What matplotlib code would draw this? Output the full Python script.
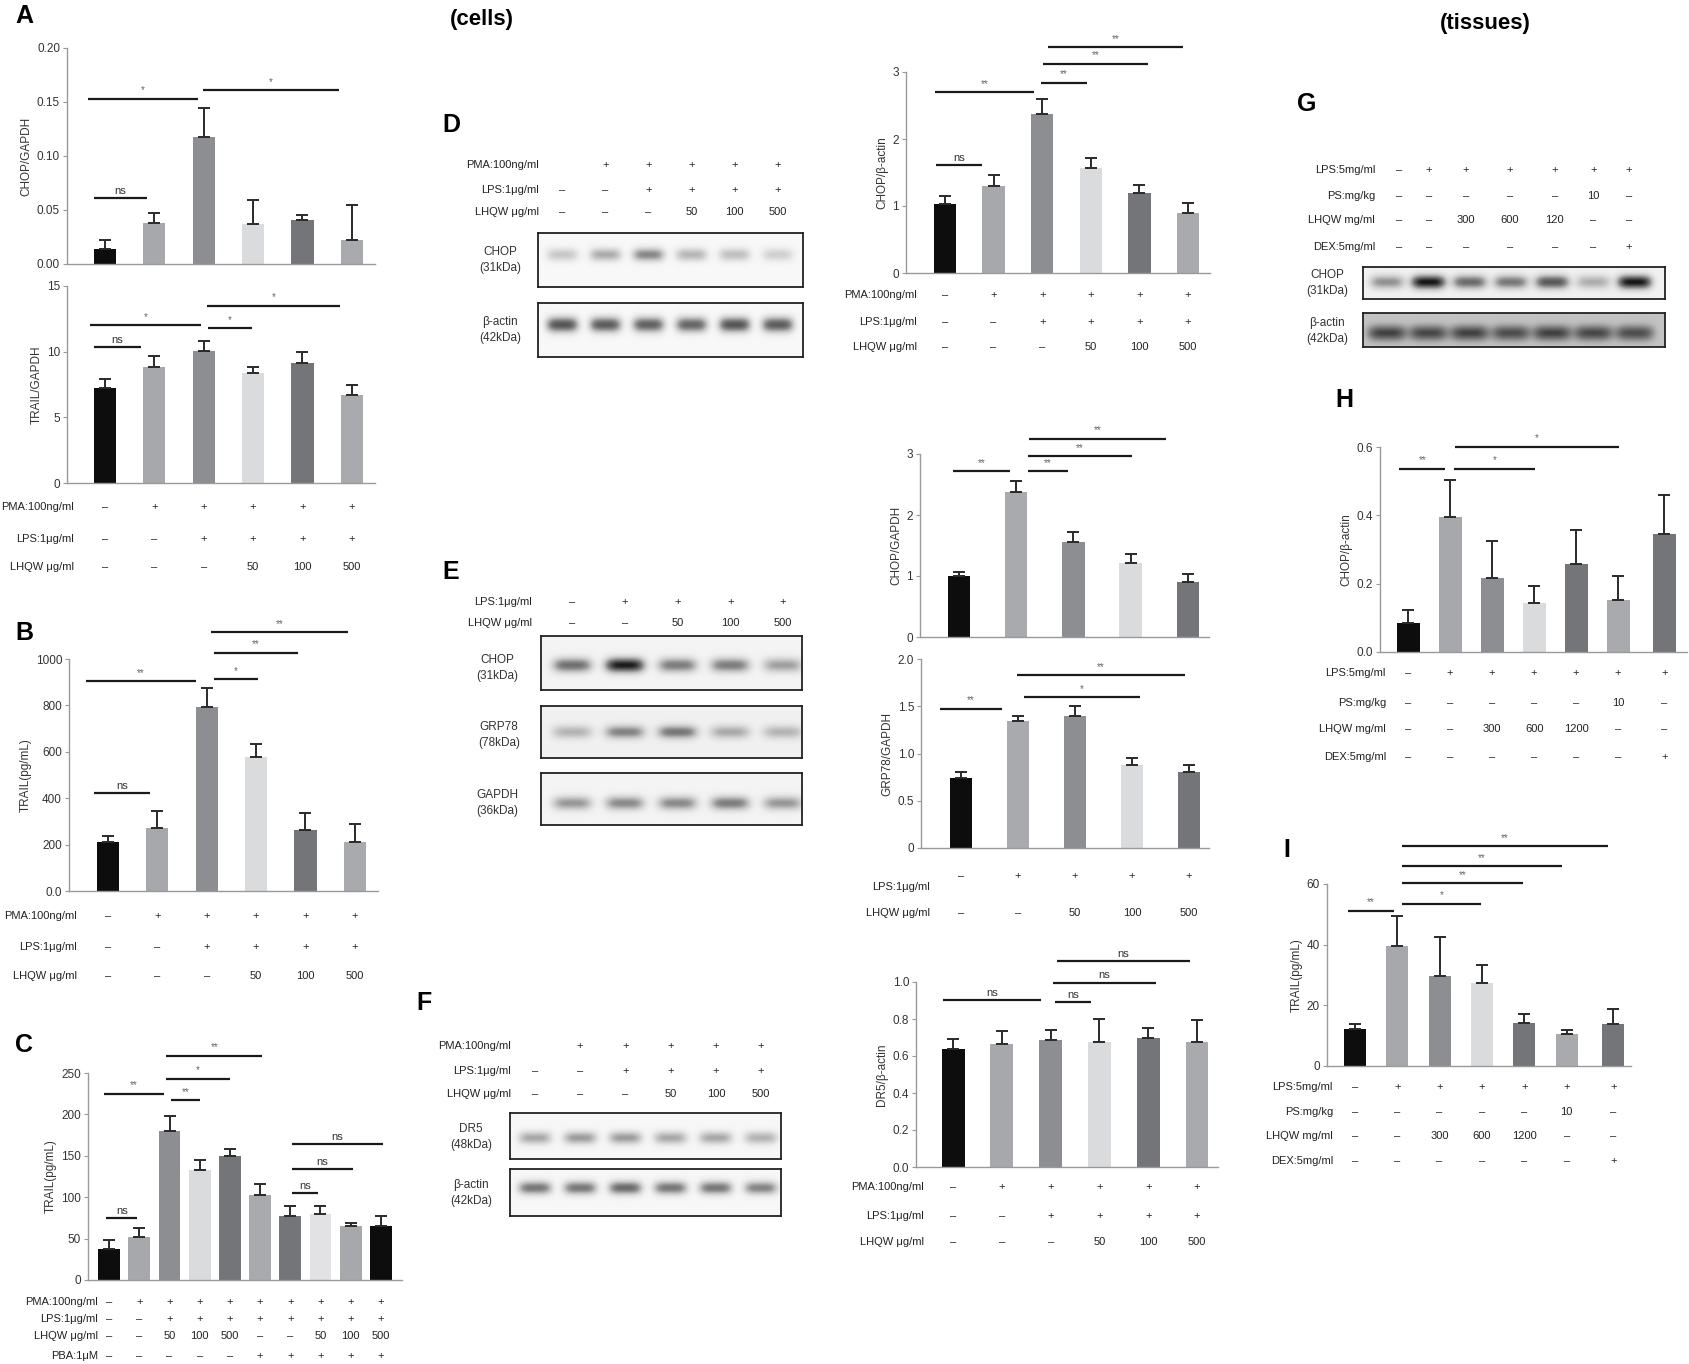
import numpy as np
import matplotlib
matplotlib.use('Agg')
import matplotlib.pyplot as plt
from matplotlib import transforms

plt.rcParams['font.family'] = ['Liberation Sans', 'DejaVu Sans']

W, H = 1690, 1364

# ---------------- data ----------------
BLK, G1, G2, G3, G4, G5 = '#0d0d0d', '#a7a8ab', '#8d8e92', '#dadbdd', '#747579', '#a9aaad'

# A: THP-1 cells, qPCR
a_chop = [0.014, 0.038, 0.118, 0.037, 0.041, 0.022]
a_chop_err = [0.008, 0.009, 0.026, 0.022, 0.004, 0.033]
a_trail = [7.25, 8.8, 10.05, 8.35, 9.1, 6.7]
a_trail_err = [0.65, 0.9, 0.8, 0.5, 0.9, 0.8]
# B: TRAIL ELISA
b_trail = [211, 272, 791, 578, 265, 211]
b_trail_err = [28, 72, 85, 55, 72, 76]
# C: TRAIL ELISA with PBA
c_trail = [37.4, 51.9, 179.7, 133, 150, 102.5, 77.2, 80, 65.1, 65.5]
c_trail_err = [10.5, 10.8, 18.5, 12, 8, 12.9, 11.7, 8.9, 4, 12]
# D: CHOP/beta-actin
d_chop = [1.03, 1.30, 2.37, 1.57, 1.20, 0.90]
d_chop_err = [0.12, 0.17, 0.22, 0.14, 0.11, 0.15]
# E: CHOP/GAPDH and GRP78/GAPDH
e_chop = [1.0, 2.38, 1.565, 1.21, 0.905]
e_chop_err = [0.07, 0.17, 0.155, 0.15, 0.125]
e_grp = [0.737, 1.345, 1.40, 0.88, 0.80]
e_grp_err = [0.063, 0.055, 0.10, 0.075, 0.08]
# F: DR5/beta-actin
f_dr5 = [0.639, 0.667, 0.687, 0.673, 0.70, 0.678]
f_dr5_err = [0.054, 0.068, 0.051, 0.127, 0.053, 0.118]
# H: tissue CHOP/beta-actin
h_chop = [0.085, 0.395, 0.218, 0.143, 0.257, 0.153, 0.346]
h_chop_err = [0.037, 0.107, 0.107, 0.049, 0.101, 0.069, 0.113]
# I: tissue TRAIL
i_trail = [12.1, 39.5, 29.6, 27.2, 14.2, 10.4, 14.0]
i_trail_err = [1.8, 9.8, 13.0, 6.1, 3.0, 1.6, 4.8]

# blot band intensities per lane
d_blot_chop = [0.3, 0.42, 0.55, 0.38, 0.34, 0.26]
d_blot_actin = [0.75, 0.72, 0.7, 0.68, 0.75, 0.72]
e_blot_chop = [0.6, 0.9, 0.55, 0.55, 0.42]
e_blot_grp = [0.32, 0.5, 0.55, 0.36, 0.32]
e_blot_gapdh = [0.45, 0.5, 0.5, 0.55, 0.45]
f_blot_dr5 = [0.42, 0.46, 0.46, 0.42, 0.42, 0.38]
f_blot_actin = [0.6, 0.6, 0.65, 0.6, 0.6, 0.55]
g_blot_chop = [0.45, 0.9, 0.6, 0.55, 0.68, 0.35, 0.9]
g_blot_actin = [0.5, 0.48, 0.5, 0.46, 0.5, 0.48, 0.46]

# condition rows
pma6 = ['–', '+', '+', '+', '+', '+']
pma6_blot = ['', '+', '+', '+', '+', '+']
lps6 = ['–', '–', '+', '+', '+', '+']
lhqw6 = ['–', '–', '–', '50', '100', '500']
pma10 = ['–'] + ['+'] * 9
lps10 = ['–', '–'] + ['+'] * 8
lhqw10 = ['–', '–', '50', '100', '500', '–', '–', '50', '100', '500']
pba10 = ['–'] * 5 + ['+'] * 5
lps5 = ['–', '+', '+', '+', '+']
lhqw5 = ['–', '–', '50', '100', '500']
lps7 = ['–', '+', '+', '+', '+', '+', '+']
ps7 = ['–', '–', '–', '–', '–', '10', '–']
lhqw7 = ['–', '–', '300', '600', '1200', '–', '–']
lhqw7_g = ['–', '–', '300', '600', '120', '–', '–']
dex7 = ['–'] * 6 + ['+']

fig = plt.figure(figsize=(W / 100, H / 100), dpi=100)


def box(l, t, r, b):
    return fig.add_axes([l / W, 1 - b / H, (r - l) / W, (b - t) / H])


def fy(py):
    return 1 - py / H


def bar_panel(px, xlim, vals, errs, cols, ylim, yticks, ytl, ylabel, sigs,
              pos=None, width=0.45):
    ax = box(*px)
    x = np.arange(len(vals)) if pos is None else np.array(pos)
    ax.bar(x, vals, width, color=cols, zorder=2)
    ax.errorbar(x, vals, yerr=[np.zeros(len(vals)), errs], fmt='none',
                ecolor='#2a2a2a', elinewidth=1.4, capsize=4, capthick=1.4, zorder=3)
    ax.set_xlim(*xlim)
    ax.set_ylim(*ylim)
    ax.set_yticks(yticks)
    ax.set_yticklabels(ytl)
    ax.set_xticks(x)
    ax.set_xticklabels([])
    ax.tick_params(axis='x', direction='in', length=4, color='#666', width=1)
    ax.tick_params(axis='y', direction='out', length=3, color='#999',
                   labelsize=8.5, labelcolor='#333', pad=2)
    for s in ('top', 'right'):
        ax.spines[s].set_visible(False)
    for s in ('left', 'bottom'):
        ax.spines[s].set_color('#999')
        ax.spines[s].set_linewidth(1.0)
    ax.set_ylabel(ylabel, fontsize=8.5, color='#333', labelpad=3)
    ax.patch.set_alpha(0)
    for x1, x2, y, t in sigs:
        ax.plot([x1, x2], [y, y], color='#1a1a1a', lw=1.6, clip_on=False,
                solid_capstyle='butt', zorder=4)
        if t == 'ns':
            ax.annotate(t, ((x1 + x2) / 2, y), xytext=(0, 1.5), textcoords='offset points',
                        ha='center', va='bottom', fontsize=8, color='#333',
                        annotation_clip=False)
        else:
            ax.annotate(t, ((x1 + x2) / 2, y), xytext=(0, 2.5), textcoords='offset points',
                        ha='center', va='bottom', fontsize=7, color='#666',
                        annotation_clip=False)
    return ax


def cond_rows(ax, rows, ys, label_x, pos=None, label_ys=None, fs=8):
    tr = transforms.blended_transform_factory(ax.transData, fig.transFigure)
    if label_ys is None:
        label_ys = ys
    for (name, cells), py, ly in zip(rows, ys, label_ys):
        fig.text(label_x / W, fy(ly), name, ha='right', va='center', fontsize=fs, color='#222')
        xs = np.arange(len(cells)) if pos is None else pos
        for xi, c in zip(xs, cells):
            ax.text(xi, fy(py), c, transform=tr, ha='center', va='center',
                    fontsize=fs, color='#222', clip_on=False)


def blot(px, xlim, intens, band_y=0.5, bg=0.08, sy=0.13, sx=0.38):
    ax = box(*px)
    xs = np.linspace(xlim[0], xlim[1], 500)
    ys = np.linspace(0, 1, 120)
    X, Y = np.meshgrid(xs, ys)
    img = np.full_like(X, bg)
    for lx, v in enumerate(intens):
        img += v * np.exp(-((X - lx) / sx) ** 4) * np.exp(-((Y - band_y) / sy) ** 2)
    ax.imshow(img, extent=(xlim[0], xlim[1], 0, 1), origin='lower', aspect='auto',
              cmap='Greys', vmin=0, vmax=1.1, interpolation='bilinear')
    ax.set_xlim(*xlim)
    ax.set_ylim(0, 1)
    ax.set_xticks([])
    ax.set_yticks([])
    for s in ax.spines.values():
        s.set_linewidth(1.3)
        s.set_color('#222')
    return ax


def blot_label(x, y, txt):
    fig.text(x / W, fy(y), txt, ha='center', va='center', fontsize=8.5,
             color='#333', linespacing=1.35)


def letter(x, y, t):
    fig.text(x / W, fy(y), t, ha='left', va='center', fontsize=18, weight='bold')


cols6 = [BLK, G1, G2, G3, G4, G5]
cols5 = [BLK, G5, G2, G3, G4]
cols7 = [BLK, G1, G2, G3, G4, G5, G4]
cols10 = [BLK, G1, G2, G3, G4, G5, G4, '#e2e2e4', G1, BLK]

# headers
fig.text(450 / W, fy(20), '(cells)', fontsize=16, weight='bold', ha='left', va='center')
fig.text(1440 / W, fy(23), '(tissues)', fontsize=16, weight='bold', ha='left', va='center')

# ---------------- A ----------------
letter(15, 16, 'A')
axA1 = bar_panel((67, 48, 375, 264), (-0.77, 5.47), a_chop, a_chop_err, cols6,
                 (0, 0.2), [0, 0.05, 0.10, 0.15, 0.20], ['0.00', '0.05', '0.10', '0.15', '0.20'],
                 'CHOP/GAPDH',
                 [(-0.22, 0.85, 0.061, 'ns'), (-0.34, 1.88, 0.153, '*'), (1.98, 4.74, 0.161, '*')])
axA2 = bar_panel((67, 286, 375, 483), (-0.77, 5.47), a_trail, a_trail_err, cols6,
                 (0, 15), [0, 5, 10, 15], ['0', '5', '10', '15'], 'TRAIL/GAPDH',
                 [(-0.22, 0.73, 10.37, 'ns'), (-0.30, 1.94, 12.0, '*'),
                  (2.09, 2.98, 11.78, '*'), (2.06, 4.76, 13.5, '*')])
cond_rows(axA2, [('PMA:100ng/ml', pma6), ('LPS:1μg/ml', lps6), ('LHQW μg/ml', lhqw6)],
          [507, 539, 567], 74)

# ---------------- B ----------------
letter(15, 633, 'B')
axB = bar_panel((69, 659, 378, 891), (-0.79, 5.47), b_trail, b_trail_err, cols6,
                (0, 1000), [0, 200, 400, 600, 800, 1000],
                ['0.0', '200', '400', '600', '800', '1000'], 'TRAIL(pg/mL)',
                [(-0.28, 0.85, 423, 'ns'), (-0.45, 1.78, 904, '**'), (2.15, 3.04, 912, '*'),
                 (2.15, 3.85, 1027, '**'), (2.09, 4.86, 1115, '**')])
cond_rows(axB, [('PMA:100ng/ml', pma6), ('LPS:1μg/ml', lps6), ('LHQW μg/ml', lhqw6)],
          [916, 947, 976], 77)

# ---------------- C ----------------
letter(15, 1045, 'C')
axC = bar_panel((88, 1073, 402, 1280), (-0.70, 9.70), c_trail, c_trail_err, cols10,
                (0, 250), [0, 50, 100, 150, 200, 250], ['0', '50', '100', '150', '200', '250'],
                'TRAIL(pg/mL)',
                [(-0.10, 0.93, 74.4, 'ns'), (-0.17, 1.82, 225, '**'), (2.05, 3.01, 217, '**'),
                 (1.89, 4.0, 243, '*'), (1.89, 5.07, 271, '**'), (6.06, 6.92, 104.6, 'ns'),
                 (6.06, 8.08, 133.5, 'ns'), (6.06, 9.07, 163.7, 'ns')], width=0.72)
cond_rows(axC, [('PMA:100ng/ml', pma10), ('LPS:1μg/ml', lps10), ('LHQW μg/ml', lhqw10),
                ('PBA:1μM', pba10)], [1302, 1319, 1336, 1356], 98)

# ---------------- D ----------------
letter(442, 125, 'D')
xl_d = (-0.56, 5.58)
bD1 = blot((538, 233, 803, 287), xl_d, d_blot_chop, band_y=0.6, bg=0.06, sy=0.13)
bD2 = blot((538, 303, 803, 357), xl_d, d_blot_actin, band_y=0.6, bg=0.06, sy=0.15)
blot_label(500, 260, 'CHOP\n(31kDa)')
blot_label(500, 330, 'β-actin\n(42kDa)')
cond_rows(bD1, [('PMA:100ng/ml', pma6_blot), ('LPS:1μg/ml', lps6), ('LHQW μg/ml', lhqw6)],
          [165, 190, 212], 539)

axD = bar_panel((906, 72, 1210, 273), (-0.80, 5.45), d_chop, d_chop_err, cols6,
                (0, 3), [0, 1, 2, 3], ['0', '1', '2', '3'], 'CHOP/β-actin',
                [(-0.19, 0.76, 1.61, 'ns'), (-0.21, 1.83, 2.70, '**'), (1.98, 2.92, 2.84, '**'),
                 (2.02, 4.18, 3.12, '**'), (2.12, 4.90, 3.37, '**')], width=0.46)
cond_rows(axD, [('PMA:100ng/ml', pma6), ('LPS:1μg/ml', lps6), ('LHQW μg/ml', lhqw6)],
          [295, 322, 347], 917)

# ---------------- E ----------------
letter(442, 572, 'E')
xl_e = (-0.59, 4.36)
bE1 = blot((541, 636, 802, 690), xl_e, e_blot_chop, band_y=0.46, bg=0.1, sy=0.14)
bE2 = blot((541, 706, 802, 758), xl_e, e_blot_grp, band_y=0.5, bg=0.13, sy=0.13)
bE3 = blot((541, 773, 802, 825), xl_e, e_blot_gapdh, band_y=0.42, bg=0.1, sy=0.14)
blot_label(497, 668, 'CHOP\n(31kDa)')
blot_label(499, 735, 'GRP78\n(78kDa)')
blot_label(497, 803, 'GAPDH\n(36kDa)')
cond_rows(bE1, [('LPS:1μg/ml', lps5), ('LHQW μg/ml', lhqw5)], [602, 623], 532)

axE1 = bar_panel((920, 454, 1209, 637), (-0.68, 4.37), e_chop, e_chop_err, cols5,
                 (0, 3), [0, 1, 2, 3], ['0', '1', '2', '3'], 'CHOP/GAPDH',
                 [(-0.10, 0.89, 2.72, '**'), (1.21, 1.90, 2.72, '**'),
                  (1.21, 3.02, 2.96, '**'), (1.22, 3.62, 3.25, '**')], width=0.39)
axE2 = bar_panel((921, 659, 1209, 848), (-0.70, 4.35), e_grp, e_grp_err, cols5,
                 (0, 2), [0, 0.5, 1.0, 1.5, 2.0], ['0', '0.5', '1.0', '1.5', '2.0'],
                 'GRP78/GAPDH',
                 [(-0.37, 0.72, 1.476, '**'), (1.10, 3.14, 1.597, '*'),
                  (0.98, 3.93, 1.826, '**')], width=0.39)
cond_rows(axE2, [('LPS:1μg/ml', lps5), ('LHQW μg/ml', lhqw5)], [876, 913], 930,
          label_ys=[887, 913])

# ---------------- F ----------------
letter(416, 1003, 'F')
xl_f = (-0.55, 5.44)
bF1 = blot((510, 1113, 781, 1159), xl_f, f_blot_dr5, band_y=0.46, bg=0.07, sy=0.15)
bF2 = blot((510, 1169, 781, 1216), xl_f, f_blot_actin, band_y=0.6, bg=0.07, sy=0.15)
blot_label(471, 1137, 'DR5\n(48kDa)')
blot_label(471, 1193, 'β-actin\n(42kDa)')
cond_rows(bF1, [('PMA:100ng/ml', pma6_blot), ('LPS:1μg/ml', lps6), ('LHQW μg/ml', lhqw6)],
          [1046, 1071, 1094], 511)

axF = bar_panel((916, 982, 1218, 1167), (-0.76, 5.43), f_dr5, f_dr5_err, cols6,
                (0, 1.0), [0, 0.2, 0.4, 0.6, 0.8, 1.0],
                ['0.0', '0.2', '0.4', '0.6', '0.8', '1.0'], 'DR5/β-actin',
                [(-0.20, 1.80, 0.903, 'ns'), (2.09, 2.83, 0.892, 'ns'),
                 (2.05, 4.16, 0.997, 'ns'), (2.13, 4.86, 1.114, 'ns')], width=0.47)
cond_rows(axF, [('PMA:100ng/ml', pma6), ('LPS:1μg/ml', lps6), ('LHQW μg/ml', lhqw6)],
          [1187, 1216, 1242], 924)

# ---------------- G ----------------
letter(1297, 104, 'G')
xl_g = (-0.58, 6.73)
g_pos = [0.29, 1.02, 1.91, 2.97, 4.06, 5.0, 5.85]
bG1 = blot((1363, 267, 1665, 299), xl_g, g_blot_chop, band_y=0.53, bg=0.12, sy=0.22, sx=0.42)
bG2 = blot((1363, 313, 1665, 347), xl_g, g_blot_actin, band_y=0.41, bg=0.38, sy=0.22, sx=0.46)
blot_label(1327, 283, 'CHOP\n(31kDa)')
blot_label(1327, 331, 'β-actin\n(42kDa)')
cond_rows(bG1, [('LPS:5mg/ml', lps7), ('PS:mg/kg', ps7), ('LHQW mg/ml', lhqw7_g),
                ('DEX:5mg/ml', dex7)], [170, 196, 220, 247], 1375, pos=g_pos)

# ---------------- H ----------------
letter(1335, 400, 'H')
pos7 = [0, 1, 2, 3, 4, 5, 6.1]
axH = bar_panel((1380, 447, 1687, 652), (-0.67, 6.64), h_chop, h_chop_err, cols7,
                (0, 0.6), [0, 0.2, 0.4, 0.6], ['0.0', '0.2', '0.4', '0.6'], 'CHOP/β-actin',
                [(-0.21, 0.88, 0.537, '**'), (1.10, 3.02, 0.537, '*'),
                 (1.12, 5.02, 0.6, '*')], pos=pos7, width=0.55)
cond_rows(axH, [('LPS:5mg/ml', lps7), ('PS:mg/kg', ps7), ('LHQW mg/ml', lhqw7),
                ('DEX:5mg/ml', dex7)], [673, 703, 729, 757], 1386, pos=pos7)

# ---------------- I ----------------
letter(1283, 850, 'I')
axI = bar_panel((1327, 884, 1631, 1066), (-0.66, 6.52), i_trail, i_trail_err, cols7,
                (0, 60), [0, 20, 40, 60], ['0', '20', '40', '60'], 'TRAIL(pg/mL)',
                [(-0.17, 0.92, 51.1, '**'), (1.11, 2.98, 53.4, '*'), (1.11, 3.97, 60.2, '**'),
                 (1.11, 4.89, 65.9, '**'), (1.11, 5.98, 72.4, '**')], pos=pos7, width=0.52)
cond_rows(axI, [('LPS:5mg/ml', lps7), ('PS:mg/kg', ps7), ('LHQW mg/ml', lhqw7),
                ('DEX:5mg/ml', dex7)], [1087, 1112, 1136, 1161], 1333, pos=pos7)

fig.savefig('out.png', dpi=100, facecolor='white')
